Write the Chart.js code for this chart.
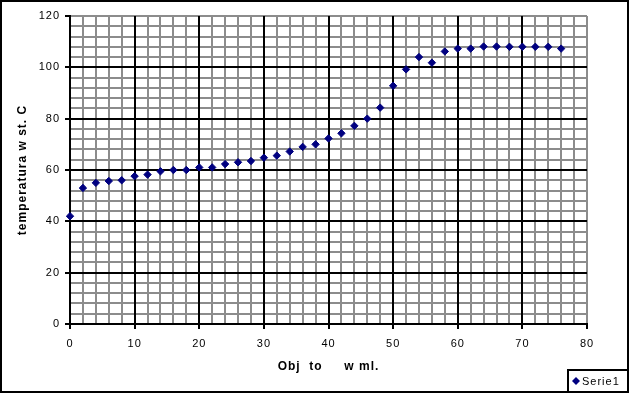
<!DOCTYPE html>
<html>
<head>
<meta charset="utf-8">
<script src="https://cdn.jsdelivr.net/npm/chart.js@4/dist/chart.umd.min.js"></script>
<style>
  html, body { margin: 0; padding: 0; background: #fff; }
  #wrap { position: relative; width: 629px; height: 393px; }
</style>
</head>
<body>
<div id="wrap"><canvas id="chart"></canvas></div>
<script>
// objetosc (ml) i temperatura
const volumes = [0, 2, 4, 6, 8, 10, 12, 14, 16, 18, 20, 22, 24, 26, 28, 30, 32, 34, 36, 38,
  40, 42, 44, 46, 48, 50, 52, 54, 56, 58, 60, 62, 64, 66, 68, 70, 72, 74, 76];
const temps = [42, 53, 55, 55.7, 56, 57.6, 58.2, 59.5, 60, 60, 61, 61, 62.3, 63, 63.5, 64.8, 65.6, 67.2, 69, 70,
  72.3, 74.3, 77.2, 80, 84.3, 92.8, 99.2, 104, 101.8, 106.2, 107.3, 107.3, 108.1, 108.1, 108, 108, 108, 108, 107.3];
const seriesName = "Serie1";
const xTitle = "Obj  to     w ml.";
const yTitle = "temperatura w st. C";
const xRange = [0, 80];
const yRange = [0, 120];

const FONT = "'Liberation Sans', Arial, sans-serif";
const NAVY = "#000080";
const GRAY = "#8c8c8c";

Chart.defaults.font.family = FONT;
Chart.defaults.color = "#000";

function spacing(chart) {
  chart.ctx.letterSpacing = "1px";
}

// ramka wykresu + legenda w prawym dolnym rogu
const framePlugin = {
  id: "frame",
  beforeLayout: spacing,
  beforeDraw: spacing,
  afterDraw(chart) {
    const ctx = chart.ctx;
    ctx.save();
    ctx.strokeStyle = "#000";
    ctx.lineWidth = 2;
    ctx.strokeRect(1, 1, 627, 391);
    ctx.fillStyle = "#fff";
    ctx.fillRect(568, 370, 60, 22);
    ctx.strokeRect(568, 370, 60, 22);
    // znacznik
    ctx.fillStyle = NAVY;
    ctx.beginPath();
    ctx.moveTo(576, 377);
    ctx.lineTo(580, 381);
    ctx.lineTo(576, 385);
    ctx.lineTo(572, 381);
    ctx.closePath();
    ctx.fill();
    ctx.fillStyle = "#000";
    ctx.font = "11px " + FONT;
    ctx.textBaseline = "middle";
    ctx.fillText(chart.data.datasets[0].label, 582, 381.5);
    ctx.restore();
  },
};

const ctx = document.getElementById("chart").getContext("2d");
new Chart(ctx, {
  type: "scatter",
  data: {
    datasets: [
      {
        label: seriesName,
        data: volumes.map((v, i) => ({ x: v, y: temps[i] })),
        pointStyle: "rectRot",
        pointRadius: 3.7,
        pointHoverRadius: 3.7,
        borderWidth: 1,
        backgroundColor: NAVY,
        borderColor: NAVY,
        clip: false,
      },
    ],
  },
  options: {
    responsive: true,
    maintainAspectRatio: false,
    animation: false,
    events: [],
    layout: { padding: { left: 0, right: 42, top: 16, bottom: 0 } },
    plugins: { legend: { display: false }, tooltip: { enabled: false } },
    scales: {
      // siatka pomocnicza (szara)
      xMinor: {
        type: "linear",
        position: "bottom",
        min: xRange[0],
        max: xRange[1],
        ticks: { stepSize: 2, display: false },
        grid: { color: GRAY, lineWidth: 2, drawTicks: false },
        border: { display: false },
        afterFit: (s) => { s.height = 0; },
      },
      yMinor: {
        type: "linear",
        position: "left",
        min: yRange[0],
        max: yRange[1],
        ticks: { stepSize: 4, display: false },
        grid: { color: GRAY, lineWidth: 2, drawTicks: false },
        border: { display: false },
        afterFit: (s) => { s.width = 0; },
      },
      x: {
        type: "linear",
        position: "bottom",
        min: xRange[0],
        max: xRange[1],
        ticks: { stepSize: 10, padding: 8, maxRotation: 0, autoSkip: false, font: { size: 11 } },
        grid: {
          color: (c) => (c.tick && c.tick.value === xRange[1] ? "rgba(0,0,0,0)" : "#000"),
          lineWidth: 2,
          tickLength: 5,
          tickColor: "#000",
          tickWidth: 2,
        },
        border: { color: "#000", width: 2 },
        title: {
          display: true,
          text: xTitle,
          font: { size: 12, weight: "bold" },
          padding: { top: 0, bottom: 19 },
        },
        afterFit: (s) => { s.height = 69; },
      },
      y: {
        type: "linear",
        position: "left",
        min: yRange[0],
        max: yRange[1],
        ticks: { stepSize: 20, padding: 5, autoSkip: false, font: { size: 11 } },
        grid: {
          color: (c) => (c.tick && c.tick.value === yRange[1] ? "rgba(0,0,0,0)" : "#000"),
          lineWidth: 2,
          tickLength: 5,
          tickColor: "#000",
          tickWidth: 2,
        },
        border: { color: "#000", width: 2 },
        title: {
          display: true,
          text: yTitle,
          font: { size: 12, weight: "bold" },
          padding: { top: 15, bottom: 0 },
        },
        afterFit: (s) => { s.width = 70; },
      },
    },
  },
  plugins: [framePlugin],
});
</script>
</body>
</html>
